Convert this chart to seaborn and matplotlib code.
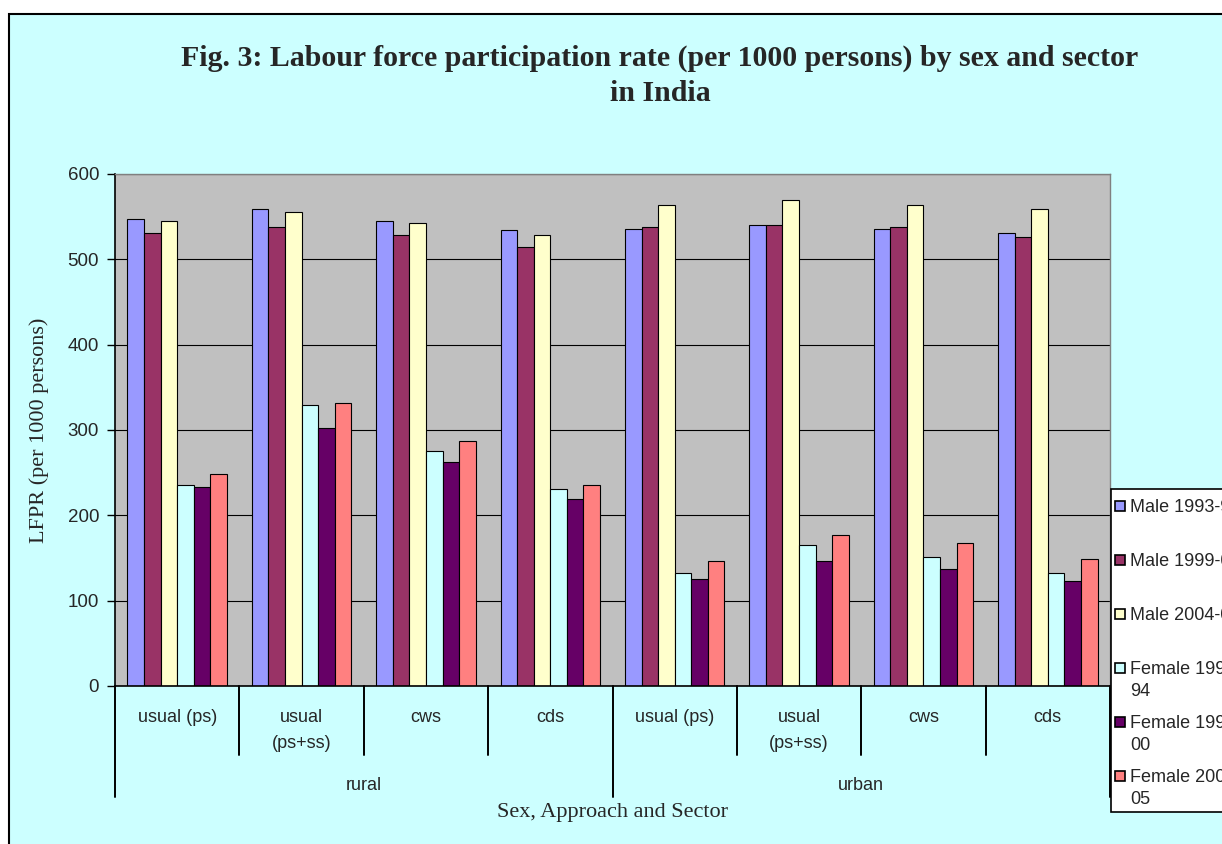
import pandas as pd
import matplotlib
matplotlib.use("Agg")
import matplotlib.pyplot as plt
import matplotlib.transforms as mtransforms
from matplotlib.patches import Rectangle
import seaborn as sns

# 1. Chart values (LFPR per 1000 persons)
sectors = ["rural", "rural", "rural", "rural", "urban", "urban", "urban", "urban"]
approaches = ["usual (ps)", "usual\n(ps+ss)", "cws", "cds",
              "usual (ps)", "usual\n(ps+ss)", "cws", "cds"]
series = ["Male 1993-94", "Male 1999-00", "Male 2004-05",
          "Female 1993-94", "Female 1999-00", "Female 2004-05"]

male_1993 = [547, 559, 545, 534, 536, 540, 536, 531]
male_1999 = [531, 538, 529, 515, 538, 540, 538, 526]
male_2004 = [545, 555, 543, 529, 564, 569, 564, 559]
female_1993 = [236, 329, 275, 231, 132, 165, 151, 132]
female_1999 = [233, 302, 262, 219, 125, 146, 137, 123]
female_2004 = [248, 332, 287, 236, 146, 177, 168, 149]

colors = ["#9999FF", "#993366", "#FFFFCC", "#CCFFFF", "#660066", "#FF8080"]

# 2. Long table for seaborn
categories = [f"{s}|{a}" for s, a in zip(sectors, approaches)]
values = [male_1993, male_1999, male_2004, female_1993, female_1999, female_2004]
rows = []
for name, vals in zip(series, values):
    for cat, v in zip(categories, vals):
        rows.append({"category": cat, "series": name, "lfpr": v})
df = pd.DataFrame(rows)

# 3. Figure
sns.set_style("white")
plt.rcParams["font.family"] = ["Liberation Sans", "DejaVu Sans"]
SERIF = ["Liberation Serif", "DejaVu Serif"]

W, H = 1222, 844
fig = plt.figure(figsize=(W / 100, H / 100), dpi=100, facecolor="white")
fig.patches.append(Rectangle((9 / W, -0.05), 1.1, 1 - 14 / H + 0.05,
                             transform=fig.transFigure, facecolor="#CCFFFF",
                             edgecolor="black", linewidth=1.5, zorder=-10))

ax = fig.add_axes([115 / W, 1 - 686 / H, 995 / W, 512 / H])
ax.set_facecolor("#C0C0C0")

sns.barplot(data=df, x="category", y="lfpr", hue="series",
            order=categories, hue_order=series,
            palette=dict(zip(series, colors)), saturation=1,
            edgecolor="black", linewidth=0.8, width=0.8,
            legend=False, ax=ax)

ax.set_xlim(-0.5, len(categories) - 0.5)
ax.set_ylim(0, 600)
ax.set_yticks(range(0, 601, 100))
ax.yaxis.grid(True, color="black", linewidth=0.8)
ax.set_axisbelow(True)
ax.set_xticks(range(len(categories)))
ax.set_xticklabels([])
ax.tick_params(axis="x", length=0)
ax.tick_params(axis="y", direction="out", length=5.5, width=1, color="black",
               labelsize=13.5, pad=6, left=True)
ax.set_xlabel("")
ax.set_ylabel("LFPR (per 1000 persons)", family=SERIF, fontsize=16, labelpad=13)

for side in ["top", "right"]:
    ax.spines[side].set_color("#808080")
    ax.spines[side].set_linewidth(1)
for side in ["left", "bottom"]:
    ax.spines[side].set_color("black")
    ax.spines[side].set_linewidth(1.2)

# 4. Hierarchical category axis
trans = mtransforms.blended_transform_factory(ax.transData, ax.transAxes)
for i, a in enumerate(approaches):
    ax.text(i, -0.045, a, transform=trans, ha="center", va="top",
            fontsize=13, linespacing=1.7)
for i in range(len(categories) + 1):
    x = i - 0.5
    y_end = -0.217 if i % 4 == 0 else -0.135
    ax.plot([x, x], [0, y_end], transform=trans, color="black",
            linewidth=1.4, clip_on=False)
for start in range(0, len(categories), 4):
    ax.text(start + 1.5, -0.194, sectors[start], transform=trans,
            ha="center", va="center", fontsize=13)

ax.text(0.5, -0.248, "Sex, Approach and Sector", transform=ax.transAxes,
        ha="center", va="center", family=SERIF, fontsize=16)

# 5. Title
fig.text(660 / W, 1 - 76 / H,
         "Fig. 3: Labour force participation rate (per 1000 persons) by sex and sector\nin India",
         ha="center", va="center", family=SERIF,
         fontweight="bold", fontsize=21.5, linespacing=1.4)

# 6. Legend (Excel style box, clipped at the right edge like the original)
leg_left, leg_top, leg_bottom = 1111, 489, 812
fig.patches.append(Rectangle((leg_left / W, 1 - leg_bottom / H), 0.2,
                             (leg_bottom - leg_top) / H, transform=fig.transFigure,
                             facecolor="white", edgecolor="black",
                             linewidth=1.2, zorder=5))
for i, (name, c) in enumerate(zip(series, colors)):
    yc = leg_top + 16.5 + i * 54
    fig.patches.append(Rectangle((1115 / W, 1 - (yc + 5) / H), 10 / W, 10 / H,
                                 transform=fig.transFigure, facecolor=c,
                                 edgecolor="black", linewidth=1.2, zorder=6))
    label = name if name.startswith("Male") else name.replace("-", "-\n")
    fig.text(1130 / W, 1 - (yc - 6) / H, label, ha="left", va="top",
             fontsize=13, linespacing=1.32, zorder=7)

fig.savefig("out.png", dpi=100)
